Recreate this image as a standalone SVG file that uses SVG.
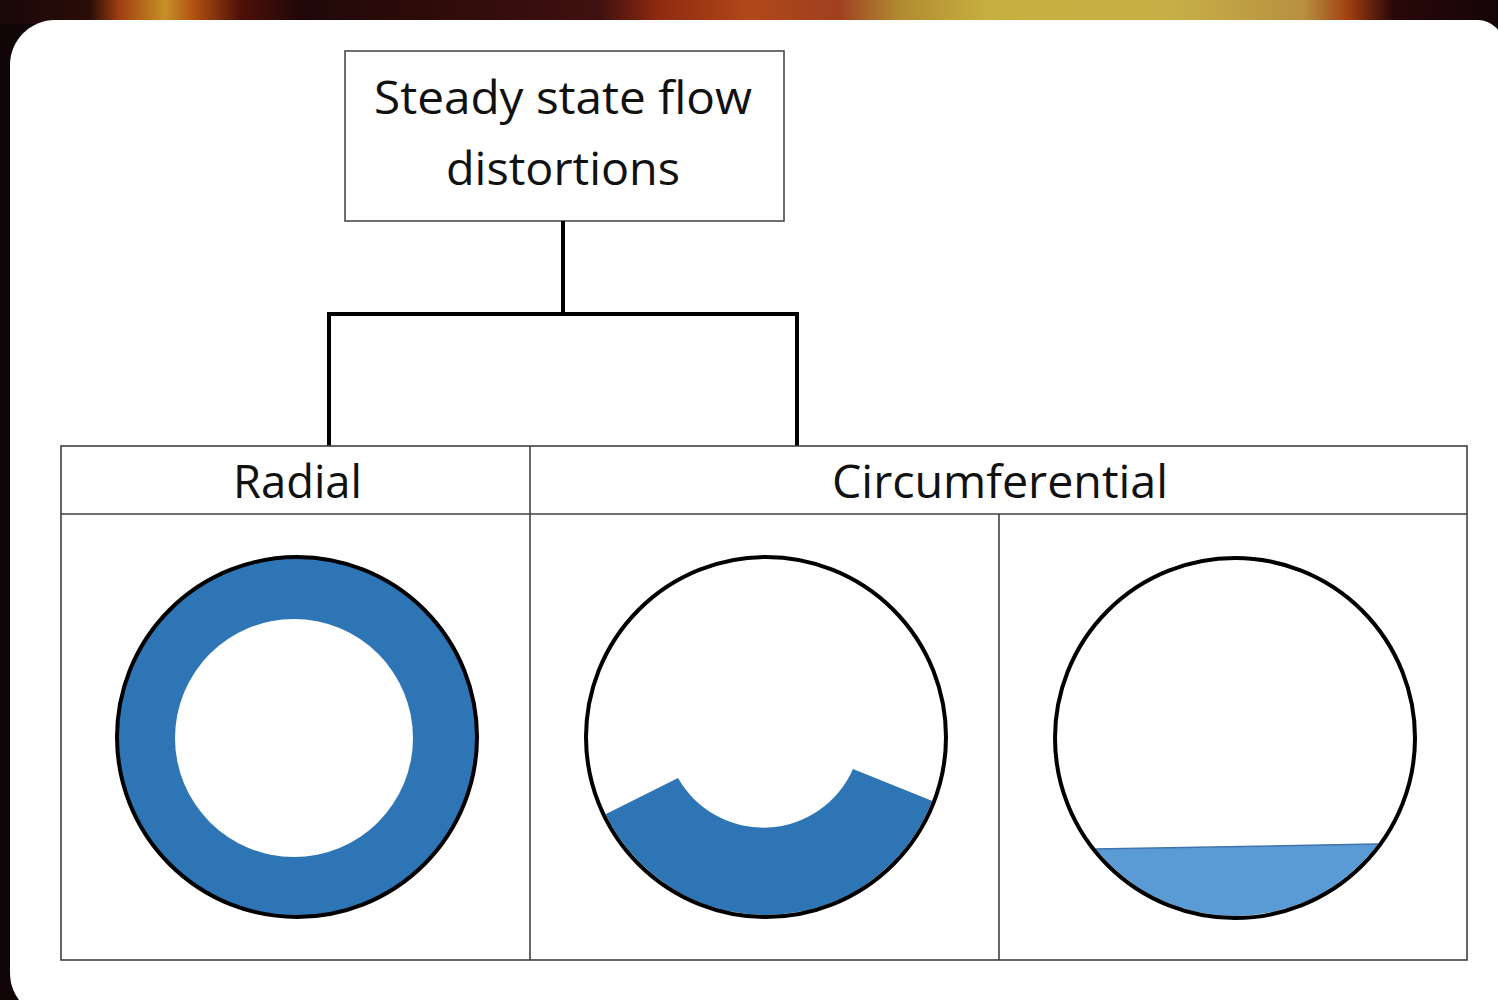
<svg xmlns="http://www.w3.org/2000/svg" width="1498" height="1000" viewBox="0 0 1498 1000">
  <style>
    .label { font-family: "Open Sans", "Liberation Sans", sans-serif; font-size: 46px; fill: #111111; text-anchor: middle; }
    .box { fill: #ffffff; stroke: #4a4a4a; stroke-width: 1.6; }
    .grid { fill: none; stroke: #404040; stroke-width: 1.6; }
    .link { fill: none; stroke: #000000; stroke-width: 4; stroke-linejoin: miter; }
    .rim { fill: none; stroke: #000000; stroke-width: 4; }
    .deep { fill: #2e75b6; }
    .light { fill: #5b9bd5; }
  </style>
  <defs>
    <linearGradient id="backdrop" x1="0" y1="0" x2="1" y2="0">
      <stop offset="0" stop-color="#1a0808"/>
      <stop offset="0.06" stop-color="#2a0c08"/>
      <stop offset="0.08" stop-color="#a04010"/>
      <stop offset="0.11" stop-color="#c89028"/>
      <stop offset="0.13" stop-color="#b05010"/>
      <stop offset="0.16" stop-color="#501008"/>
      <stop offset="0.2" stop-color="#200808"/>
      <stop offset="0.3" stop-color="#300c0a"/>
      <stop offset="0.4" stop-color="#401010"/>
      <stop offset="0.44" stop-color="#902a10"/>
      <stop offset="0.5" stop-color="#b04818"/>
      <stop offset="0.56" stop-color="#a04020"/>
      <stop offset="0.6" stop-color="#b08a30"/>
      <stop offset="0.66" stop-color="#c8b040"/>
      <stop offset="0.78" stop-color="#c8b048"/>
      <stop offset="0.87" stop-color="#b89040"/>
      <stop offset="0.9" stop-color="#a04010"/>
      <stop offset="0.93" stop-color="#2a0808"/>
      <stop offset="1" stop-color="#150508"/>
    </linearGradient>
    <clipPath id="disc2"><circle cx="766" cy="737" r="178"/></clipPath>
    <clipPath id="disc3"><circle cx="1235" cy="738" r="178"/></clipPath>
  </defs>

  <!-- backdrop behind the card -->
  <rect x="0" y="0" width="1498" height="1000" fill="#120507"/>
  <rect x="0" y="0" width="1498" height="24" fill="url(#backdrop)"/>

  <!-- white card -->
  <path d="M10 65 A45 45 0 0 1 55 20 L1478 20 A25 25 0 0 1 1503 45 L1503 1018 L55 1018 A45 45 0 0 1 10 973 Z" fill="#ffffff"/>

  <!-- root node -->
  <g id="root">
    <rect class="box" x="345" y="51" width="439" height="170"/>
    <text class="label" x="563" y="114" textLength="378" lengthAdjust="spacingAndGlyphs">Steady state flow</text>
    <text class="label" x="563" y="185" textLength="234" lengthAdjust="spacingAndGlyphs">distortions</text>
  </g>

  <!-- tree connectors -->
  <g id="connectors">
    <path class="link" d="M563 221 V314"/>
    <path class="link" d="M329 446 V314 H797 V446"/>
  </g>

  <!-- classification table -->
  <g id="table">
    <rect class="grid" x="61" y="446" width="1406" height="514"/>
    <line class="grid" x1="61" y1="514" x2="1467" y2="514"/>
    <line class="grid" x1="530" y1="446" x2="530" y2="960"/>
    <line class="grid" x1="999" y1="514" x2="999" y2="960"/>
  </g>

  <g id="radial">
    <text class="label" x="297.5" y="498" textLength="129" lengthAdjust="spacingAndGlyphs">Radial</text>
    <circle class="deep" cx="297" cy="737" r="180"/>
    <circle cx="294" cy="738" r="119" fill="#ffffff"/>
    <circle class="rim" cx="297" cy="737" r="180"/>
  </g>

  <g id="circumferential">
    <text class="label" x="1000" y="498" textLength="336" lengthAdjust="spacingAndGlyphs">Circumferential</text>
  </g>

  <g id="sector">
    <circle cx="766" cy="737" r="180" fill="#ffffff"/>
    <path class="deep" clip-path="url(#disc2)" d="M590 822 L678 778 A98 98 0 0 0 853 769 L950 808 L960 960 L580 960 Z"/>
    <circle class="rim" cx="766" cy="737" r="180"/>
  </g>

  <g id="segment">
    <circle cx="1235" cy="738" r="180" fill="#ffffff"/>
    <path class="light" clip-path="url(#disc3)" d="M1080 849.3 L1390 843.8 L1420 960 L1050 960 Z"/>
    <line clip-path="url(#disc3)" x1="1080" y1="849.3" x2="1390" y2="843.8" stroke="#3f74ad" stroke-width="1.5"/>
    <circle class="rim" cx="1235" cy="738" r="180"/>
  </g>
</svg>
